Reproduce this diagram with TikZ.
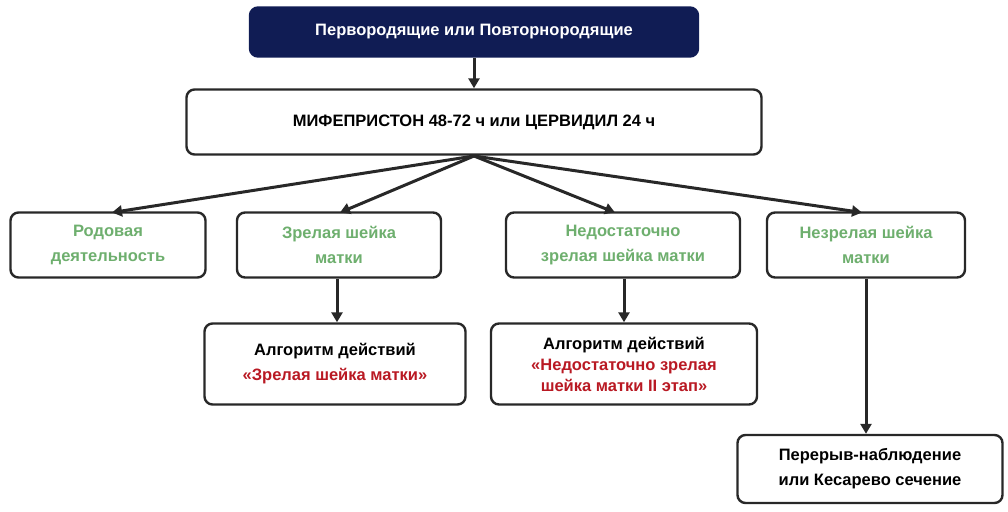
\documentclass[tikz,border=0pt]{standalone}
\usepackage{fontspec}
\setmainfont{Liberation Sans}
\usetikzlibrary{arrows.meta}
\definecolor{navy}{RGB}{16,28,84}
\definecolor{gr}{RGB}{110,175,110}
\definecolor{rd}{RGB}{185,25,35}
\definecolor{bd}{RGB}{40,40,40}
\tikzset{
 bx/.style={draw=bd,line width=2.4pt,rounded corners=8pt,fill=white,align=center,font=\bfseries\fontsize{16.5}{25}\selectfont,inner sep=0pt},
 ar/.style={draw=bd,line width=3pt,-{Triangle[length=10pt,width=11pt]}}
}
\begin{document}
\begin{tikzpicture}[x=1pt,y=-1pt]
\useasboundingbox (0,0) rectangle (1008,511);
\node[bx,fill=navy,draw=navy,text=white,minimum width=448pt,minimum height=49pt] (top) at (474,32) {Первородящие или Повторнородящие};
\node[bx,minimum width=575pt,minimum height=65pt] (mid) at (474,122) {МИФЕПРИСТОН 48-72 ч или ЦЕРВИДИЛ 24 ч};
\node[bx,text=gr,minimum width=195pt,minimum height=65pt] (r1) at (108,245) {Родовая\\деятельность};
\node[bx,text=gr,minimum width=204pt,minimum height=65pt] (r2) at (339,245) {Зрелая шейка\\матки};
\node[bx,text=gr,minimum width=234pt,minimum height=65pt] (r3) at (623,245) {Недостаточно\\зрелая шейка матки};
\node[bx,text=gr,minimum width=198pt,minimum height=65pt] (r4) at (866,245) {Незрелая шейка\\матки};
\node[bx,minimum width=261pt,minimum height=81pt] (a1) at (335,364) {Алгоритм действий\\\textcolor{rd}{«Зрелая шейка матки»}};
\node[bx,minimum width=266pt,minimum height=81pt,font=\bfseries\fontsize{16.5}{21}\selectfont] (a2) at (624,364) {Алгоритм действий\\\textcolor{rd}{«Недостаточно зрелая}\\\textcolor{rd}{шейка матки II этап»}};
\node[bx,minimum width=265pt,minimum height=68pt] (a3) at (870,469) {Перерыв-наблюдение\\или Кесарево сечение};
\coordinate (c) at (474,156);
\coordinate (v1) at (337,0);
\coordinate (v2) at (624,0);
\coordinate (v3) at (866,0);
\draw[ar] (top) -- (mid);
\draw[ar] (c) -- (112,212.5);
\draw[ar] (c) -- (340,212.5);
\draw[ar] (c) -- (615,212.5);
\draw[ar] (c) -- (862,212.5);
\draw[ar] (v1 |- r2.south) -- (v1 |- a1.north);
\draw[ar] (v2 |- r3.south) -- (v2 |- a2.north);
\draw[ar] (v3 |- r4.south) -- (v3 |- a3.north);
\end{tikzpicture}
\end{document}
